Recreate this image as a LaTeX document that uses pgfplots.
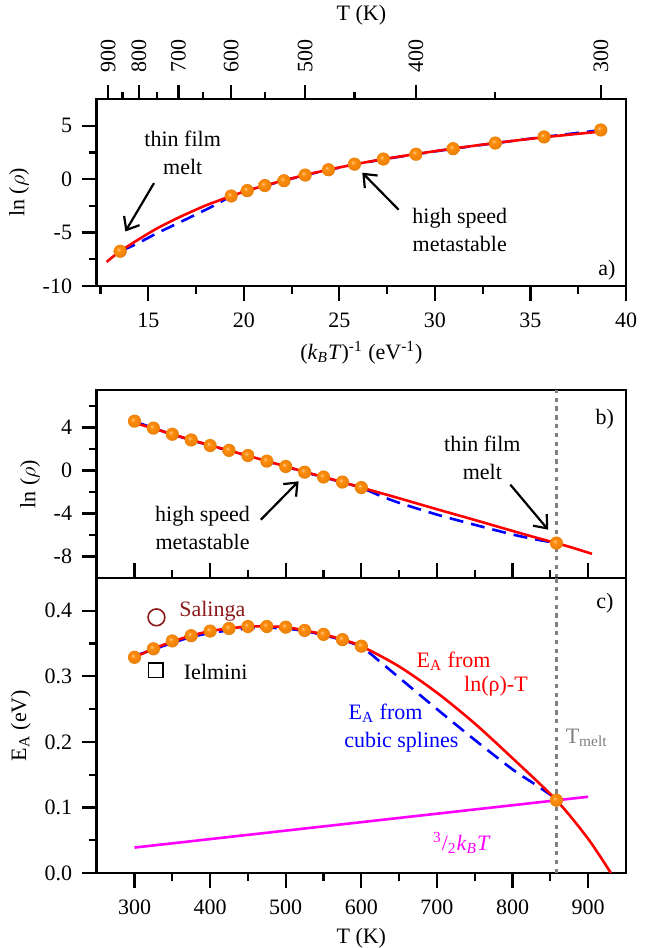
\documentclass[border=0pt]{standalone}
\usepackage{fontspec}
\setmainfont{Liberation Serif}
\usepackage{pgfplots}
\pgfplotsset{compat=1.18}
\usepackage{pgfplotstable}
\usetikzlibrary{arrows.meta}

\definecolor{ballorange}{RGB}{255,140,10}
\definecolor{salred}{RGB}{140,25,25}
\definecolor{meltgray}{RGB}{128,128,128}
\definecolor{fitred}{RGB}{255,0,0}
\definecolor{splblue}{RGB}{0,0,255}
\definecolor{mag}{RGB}{255,0,255}

\pgfdeclareradialshading{oball}{\pgfpoint{-7bp}{7bp}}{%
  color(0bp)=(white!55!ballorange); color(8bp)=(ballorange);
  color(25bp)=(ballorange!92!black); color(35bp)=(ballorange!80!black);
  color(60bp)=(ballorange!70!black)}
\pgfdeclareplotmark{oball}{%
  \pgfpathcircle{\pgfpointorigin}{\pgfplotmarksize}%
  \pgfshadepath{oball}{0}\pgfusepath{}}

\newcommand\fs{\fontsize{11}{14}\selectfont}

% measured points: T, 1/(kT), ln(rho), E_A
\pgfplotstableread{
T b r E
300 38.68 4.60 0.329
325 35.71 3.95 0.342
350 33.16 3.38 0.354
375 30.95 2.85 0.362
400 29.01 2.33 0.369
425 27.30 1.88 0.373
450 25.79 1.40 0.376
475 24.43 0.88 0.376
500 23.21 0.38 0.375
525 22.10 -0.15 0.370
550 21.10 -0.60 0.364
575 20.18 -1.07 0.356
600 19.34 -1.58 0.346
858 13.53 -6.75 0.111
}\pts

% ln(rho)-T fit
\pgfplotstableread{
T b r
300 38.68 4.45
325 35.71 3.92
350 33.16 3.38
375 30.95 2.86
400 29.01 2.35
425 27.30 1.87
450 25.79 1.38
475 24.43 0.88
500 23.21 0.39
525 22.10 -0.12
550 21.10 -0.60
575 20.18 -1.08
600 19.34 -1.58
625 18.57 -2.08
650 17.85 -2.58
700 16.58 -3.60
750 15.47 -4.60
800 14.51 -5.62
830 13.98 -6.22
858 13.53 -6.75
880 13.19 -7.20
905 12.82 -7.75
}\redr

% cubic splines
\pgfplotstableread{
T b r
300 38.68 4.58
325 35.71 3.95
350 33.16 3.37
375 30.95 2.84
400 29.01 2.33
425 27.30 1.85
450 25.79 1.36
475 24.43 0.86
500 23.21 0.37
525 22.10 -0.14
550 21.10 -0.62
575 20.18 -1.10
600 19.34 -1.60
625 18.57 -2.35
650 17.85 -3.00
700 16.58 -4.10
750 15.47 -5.05
800 14.51 -5.95
830 13.98 -6.40
858 13.53 -6.75
}\bluer

\pgfplotstableread{
T E
300 0.329
325 0.342
350 0.353
375 0.362
400 0.369
425 0.373
450 0.376
475 0.376
500 0.375
525 0.370
550 0.364
575 0.356
600 0.346
650 0.315
700 0.275
750 0.228
800 0.175
858 0.111
900 0.052
930 0.000
}\rede

\pgfplotstableread{
T E
300 0.331
325 0.341
350 0.351
375 0.360
400 0.366
425 0.370
450 0.373
475 0.374
500 0.373
525 0.369
550 0.363
575 0.355
600 0.345
625 0.322
650 0.298
700 0.250
750 0.203
800 0.158
830 0.135
858 0.113
}\bluee

\pgfplotsset{
  panel/.style={
    scale only axis, width=264.65pt,
    axis line style={line width=1.2pt},
    every tick/.style={line width=1.1pt, black},
    major tick length=7.5pt, minor tick length=4pt,
    tick align=outside,
    ticklabel style={font=\fs},
    label style={font=\fs},
    /pgf/number format/assume math mode=true,
    xticklabel shift=2.3pt, yticklabel shift=1.3pt,
  },
}
\tikzset{arr/.style={line width=1.1pt, -{Straight Barb[length=5.5pt,width=9pt]}}}

\begin{document}
\begin{tikzpicture}[font=\fs]
% ---- panel a: ln(rho) vs 1/kT
\begin{axis}[panel, at={(0,293.5pt)}, anchor=south west, height=93.5pt,
  xmin=12.3, xmax=40, ymin=-10, ymax=7.5,
  xtick={15,20,...,40}, minor xtick={12.5,17.5,...,37.5},
  ytick={-10,-5,0,5}, minor ytick={-7.5,-2.5,2.5},
  xtick pos=bottom, ytick pos=left,
  xlabel={(\textit{k}\textsubscript{\textit{B}}\textit{T})\textsuperscript{-1} (eV\textsuperscript{-1})},
  ylabel={ln ($\rho$)}]
\addplot[splblue, line width=1.3pt, dash pattern=on 7pt off 4pt, smooth] table[x=b, y=r] {\bluer};
\addplot[fitred, line width=1.3pt, smooth] table[x=b, y=r] {\redr};
\addplot[only marks, mark=oball, mark size=3.3pt] table[x=b, y=r] {\pts};
\node[align=center] at (axis cs:16.8,2.45) {thin film\\melt};
\draw[arr] (axis cs:15.3,-0.37) -- (axis cs:13.8,-4.9);
\node[align=center] at (axis cs:31.3,-4.75) {high speed\\metastable};
\draw[arr] (axis cs:28.1,-2.86) -- (axis cs:26.2,0.6);
\node at (axis cs:39.0,-8.5) {a)};
\end{axis}
% ---- panel a: top temperature axis
\begin{axis}[panel, at={(0,293.5pt)}, anchor=south west, height=93.5pt,
  xmin=12.3, xmax=40, ymin=0, ymax=1,
  axis x line*=top, axis y line=none,
  major tick length=7pt, minor tick length=3.5pt,
  xtick={12.894,14.506,16.578,19.341,23.209,29.011,38.682},
  xticklabels={900,800,700,600,500,400,300},
  minor xtick={13.652,15.473,17.853,21.099,25.788,33.156},
  xticklabel style={rotate=90, anchor=west},
  xticklabel shift=2.8pt,
  xlabel={T (K)}]
\end{axis}
% ---- panel b: ln(rho) vs T
\begin{axis}[panel, at={(0,147.5pt)}, anchor=south west, height=94pt,
  xmin=250, xmax=950, ymin=-10, ymax=7.5,
  xtick=\empty,
  ytick={-8,-4,0,4}, minor ytick={-6,-2,2,6}, ytick pos=left,
  ylabel={ln ($\rho$)}]
\addplot[meltgray, line width=1.3pt, dash pattern=on 2.2pt off 2.2pt] coordinates {(858,-10) (858,7.5)};
\addplot[splblue, line width=1.3pt, dash pattern=on 7pt off 4pt, smooth] table[x=T, y=r] {\bluer};
\addplot[fitred, line width=1.3pt, smooth] table[x=T, y=r] {\redr};
\addplot[only marks, mark=oball, mark size=3.3pt] table[x=T, y=r] {\pts};
\node at (axis cs:922,4.77) {b)};
\node[align=center] at (axis cs:760,1.15) {thin film\\melt};
\draw[arr] (axis cs:797,-1.31) -- (axis cs:847,-5.5);
\node[align=center] at (axis cs:390,-5.33) {high speed\\metastable};
\draw[arr] (axis cs:467,-4.58) -- (axis cs:517,-1.0);
\end{axis}
% ---- panel c: activation energy
\begin{axis}[panel, at={(0,0)}, anchor=south west, height=147.5pt,
  xmin=250, xmax=950, ymin=0, ymax=0.45,
  xtick={300,400,...,900}, minor xtick={350,450,...,850},
  ytick={0,0.1,...,0.4}, minor ytick={0.05,0.15,...,0.35},
  xtick pos=both, ytick pos=left,
  yticklabel style={/pgf/number format/.cd, fixed, fixed zerofill, precision=1},
  xlabel={T (K)},
  ylabel={E\textsubscript{A} (eV)}]
\addplot[meltgray, line width=1.3pt, dash pattern=on 2.2pt off 2.2pt] coordinates {(858,0) (858,0.45)};
\addplot[mag, line width=1.3pt] coordinates {(300,0.0388) (900,0.1163)};
\addplot[splblue, line width=1.3pt, dash pattern=on 7pt off 4pt, smooth] table[x=T, y=E] {\bluee};
\addplot[fitred, line width=1.3pt, smooth] table[x=T, y=E] {\rede};
\addplot[only marks, mark=oball, mark size=3.3pt] table[x=T, y=E] {\pts};
\addplot[only marks, mark=o, salred, mark size=4.2pt, line width=0.8pt] coordinates {(329,0.390)};
\addplot[only marks, mark=square, black, mark size=3.6pt, line width=0.8pt] coordinates {(328,0.309)};
\node[anchor=west, text=salred] at (axis cs:350,0.400) {Salinga};
\node[anchor=west] at (axis cs:356,0.306) {Ielmini};
\node at (axis cs:922,0.412) {c)};
\node[text=fitred] at (axis cs:722,0.323) {E\textsubscript{A} from};
\node[text=fitred] at (axis cs:778,0.285) {ln(ρ)-T};
\node[text=splblue] at (axis cs:632,0.244) {E\textsubscript{A} from};
\node[text=splblue] at (axis cs:653,0.199) {cubic splines};
\node[anchor=west, text=meltgray] at (axis cs:861,0.206) {T\textsubscript{melt}};
\node[text=mag] at (axis cs:733,0.046) {\textsuperscript{3}/\textsubscript{2}\textit{k}\textsubscript{\textit{B}}\textit{T}};
\end{axis}
\pgfresetboundingbox
\path (-48.35pt,-37.5pt) rectangle (281.65pt,436.5pt);
\end{tikzpicture}
\end{document}
